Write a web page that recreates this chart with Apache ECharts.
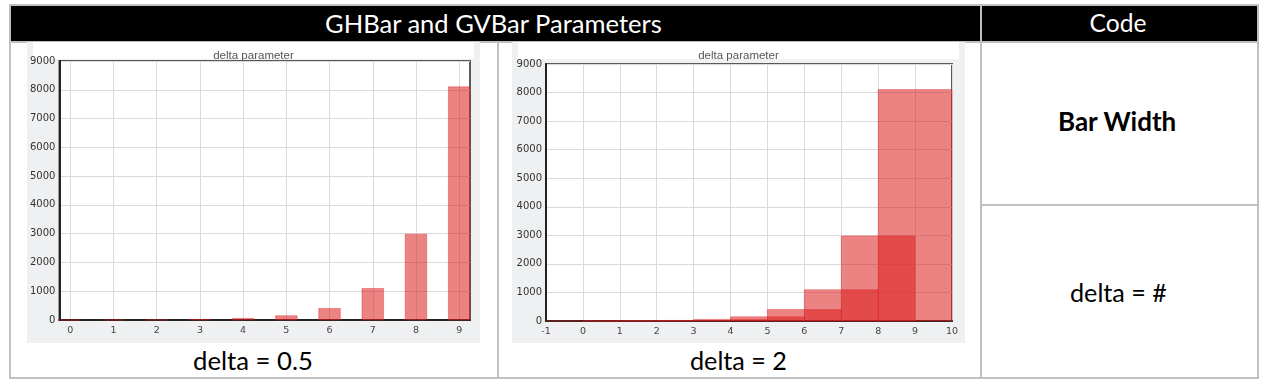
<!DOCTYPE html>
<html><head><meta charset="utf-8">
<script src="https://cdn.jsdelivr.net/npm/echarts@6/dist/echarts.min.js"></script>
<style>
html,body{margin:0;padding:0;background:#fff;width:1272px;height:386px;overflow:hidden;font-family:Lato,'Noto Sans',sans-serif;}
.ln{position:absolute;background:#c0c0c0;}
.hdr{position:absolute;background:#000;}
.t{position:absolute;white-space:nowrap;text-align:left;}
.ch{position:absolute;}
</style></head><body>
<div class="hdr" style="left:10px;top:5px;width:1248px;height:37px"></div>
<div class="ln" style="left:9px;top:4px;width:1250px;height:2px"></div>
<div class="ln" style="left:9px;top:41px;width:1250px;height:2px"></div>
<div class="ln" style="left:9px;top:377px;width:1250px;height:2px"></div>
<div class="ln" style="left:9px;top:4px;width:2px;height:375px"></div>
<div class="ln" style="left:1257px;top:4px;width:2px;height:375px"></div>
<div class="ln" style="left:980px;top:4px;width:2px;height:375px"></div>
<div class="ln" style="left:497px;top:41px;width:2px;height:338px"></div>
<div class="ln" style="left:982px;top:204px;width:275px;height:2px"></div>

<div class="t" data-w="338" data-cx="494" data-cy="24.3" style="color:#fff">GHBar and GVBar Parameters</div>
<div class="t" data-w="57" data-cx="1118" data-cy="23.8" style="color:#fff">Code</div>
<div class="t" data-w="119" data-cx="1117.5" data-cy="121.7" data-b="1" style="color:#000">Bar Width</div>
<div class="t" data-w="97" data-cx="1118.5" data-cy="293.5" style="color:#000">delta = #</div>
<div class="t" data-w="120" data-cx="253" data-cy="361" style="color:#000">delta = 0.5</div>
<div class="t" data-w="97" data-cx="738.5" data-cy="361" style="color:#000">delta = 2</div>

<div id="c1" class="ch" style="left:27px;top:42px;width:453px;height:301px"></div>
<div id="c2" class="ch" style="left:512px;top:42px;width:453px;height:301px"></div>

<script>
// ---- data ----
const categories = [0, 1, 2, 3, 4, 5, 6, 7, 8, 9];
const values = [1, 3, 7, 20, 55, 148, 403, 1097, 2981, 8103];
const deltaA = 0.5;
const deltaB = 2;
const xTicksA = [0, 1, 2, 3, 4, 5, 6, 7, 8, 9];
const xRangeA = [-0.25, 9.25];
const xRangeB = [-1, 10];
const yRange = [0, 9000];
const yStep = 1000;
const chartTitle = 'delta parameter';

// ---- text fitting ----
const ctx = document.createElement('canvas').getContext('2d');
document.querySelectorAll('.t').forEach(el => {
  const w = +el.dataset.w, cx = +el.dataset.cx, cy = +el.dataset.cy;
  const fw = el.dataset.b ? 'bold' : 'normal';
  ctx.font = fw + ' 100px Lato';
  const m = ctx.measureText(el.textContent);
  const fs = 100 * w / m.width;
  const k = fs / 100;
  const fA = m.fontBoundingBoxAscent * k, fD = m.fontBoundingBoxDescent * k;
  const aA = m.actualBoundingBoxAscent * k, aD = m.actualBoundingBoxDescent * k;
  el.style.fontSize = fs + 'px';
  el.style.fontWeight = fw;
  el.style.lineHeight = fs + 'px';
  const baseOff = (fs - (fA + fD)) / 2 + fA;
  const top = cy - (baseOff - (aA - aD) / 2);
  el.style.top = top + 'px';
  el.style.left = (cx - w / 2) + 'px';
});

// ---- charts ----
const barFill = 'rgba(220,30,30,0.55)';
function makeRender(delta) {
  return function (params, api) {
    const x = api.value(0), y = api.value(1);
    const p0 = api.coord([x - delta / 2, y]);
    const p1 = api.coord([x + delta / 2, 0]);
    return {
      type: 'rect',
      shape: { x: p0[0], y: p0[1], width: p1[0] - p0[0], height: p1[1] - p0[1] },
      style: { fill: barFill, stroke: 'rgba(220,30,30,0.35)', lineWidth: 1 }
    };
  };
}
function makeOption(delta, xRange, grid, customX) {
  const xAxis = {
    type: 'value', min: xRange[0], max: xRange[1],
    axisLine: { show: true, onZero: false, lineStyle: { color: '#222', width: 2 } },
    axisTick: { show: false },
    splitLine: { show: true, lineStyle: { color: '#dadada', width: 1 } },
    axisLabel: { color: '#444', fontSize: 9.5, fontFamily: 'DejaVu Sans', margin: 6, formatter: v => String(v) }
  };
  if (customX) {
    xAxis.axisLabel.customValues = customX;
    xAxis.axisTick.customValues = customX;
  } else {
    xAxis.interval = 1;
  }
  return {
    animation: false,
    backgroundColor: '#eff0f2',
    title: {
      text: chartTitle, left: 'center', top: 3,
      textStyle: { fontSize: 11.5, fontWeight: 'normal', color: '#555', fontFamily: 'Liberation Sans' }
    },
    graphic: [{
      type: 'rect', left: 6, top: 0, z: -10, silent: true,
      shape: { width: 441, height: 17 }, style: { fill: '#fff' }
    }],
    grid: Object.assign({ show: true, backgroundColor: '#fff', borderColor: '#5a5a5a', borderWidth: 2 }, grid),
    xAxis: xAxis,
    yAxis: {
      type: 'value', min: yRange[0], max: yRange[1], interval: yStep,
      axisLine: { show: true, onZero: false, lineStyle: { color: '#222', width: 2 } },
      axisTick: { show: false },
      splitLine: { show: true, lineStyle: { color: '#dadada', width: 1 } },
      axisLabel: { color: '#333', fontSize: 10, fontFamily: 'DejaVu Sans', margin: 4, formatter: v => String(v) }
    },
    series: [{
      type: 'custom',
      renderItem: makeRender(delta),
      encode: { x: 0, y: 1 },
      data: categories.map((c, i) => [c, values[i]])
    }]
  };
}
const c1 = echarts.init(document.getElementById('c1'), null, { renderer: 'canvas' });
c1.setOption(makeOption(deltaA, xRangeA, { left: 32, right: 10, top: 19, bottom: 23 }, xTicksA));
const c2 = echarts.init(document.getElementById('c2'), null, { renderer: 'canvas' });
c2.setOption(makeOption(deltaB, xRangeB, { left: 34, right: 13, top: 22, bottom: 22 }, null));
</script>
</body></html>
